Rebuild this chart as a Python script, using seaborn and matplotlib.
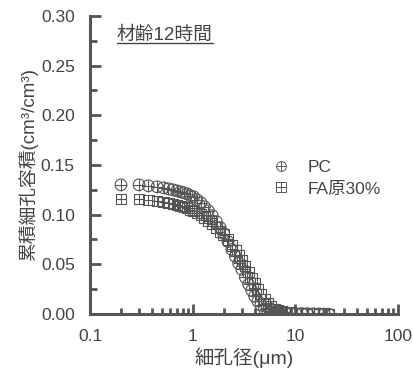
import numpy as np
import pandas as pd
import matplotlib
matplotlib.use('Agg')
import matplotlib.pyplot as plt
import seaborn as sns
from matplotlib.lines import Line2D
from matplotlib.legend_handler import HandlerTuple

# pore diameter (um) and cumulative pore volume (cm3/cm3)
pore_d = [0.2, 0.3, 0.37, 0.45, 0.52, 0.58, 0.64, 0.7, 0.76, 0.82, 0.88, 0.95,
          1.02, 1.1, 1.2, 1.3, 1.42, 1.55, 1.7, 1.85, 2.0, 2.2, 2.4, 2.6, 2.8,
          3.0, 3.25, 3.5, 3.75, 4.0, 4.3, 4.6, 5.0, 5.4, 5.8, 6.3, 6.8, 7.4,
          8.0, 9.0, 10, 11.5, 13, 15, 17, 19, 21]
pc_vol = [0.130, 0.130, 0.129, 0.128, 0.127, 0.126, 0.125, 0.124, 0.123, 0.122,
          0.121, 0.119, 0.118, 0.115, 0.112, 0.108, 0.104, 0.099, 0.093, 0.087,
          0.081, 0.073, 0.065, 0.058, 0.051, 0.045, 0.037, 0.030, 0.024, 0.018,
          0.013, 0.009, 0.005, 0.003, 0.002, 0.0015, 0.001, 0.001, 0.0008,
          0.0006, 0.0005, 0.0004, 0.0003, 0.0002, 0.0001, 0.0, 0.0]
fa_vol = [0.116, 0.116, 0.115, 0.114, 0.113, 0.112, 0.111, 0.110, 0.109, 0.108,
          0.107, 0.105, 0.104, 0.102, 0.100, 0.097, 0.094, 0.091, 0.087, 0.083,
          0.080, 0.075, 0.069, 0.064, 0.059, 0.054, 0.048, 0.042, 0.036, 0.031,
          0.025, 0.020, 0.015, 0.011, 0.008, 0.005, 0.004, 0.003, 0.002, 0.0015,
          0.001, 0.0008, 0.0006, 0.0004, 0.0003, 0.0002, 0.0001]
series_names = ['PC', 'FA原30%']

sns.set_style('white')
plt.rcParams['font.family'] = ['Liberation Sans', 'Noto Sans CJK JP']

grey = '#555555'
txt = '#444444'

df = pd.DataFrame({'d': pore_d * 2,
                   'v': pc_vol + fa_vol,
                   's': [series_names[0]] * len(pore_d) + [series_names[1]] * len(pore_d)})

fig = plt.figure(figsize=(4.13, 3.77), dpi=100)
ax = fig.add_axes([0.218, 0.167, 0.746, 0.791])

shapes = {series_names[0]: 'o', series_names[1]: 's'}
sizes = {series_names[0]: 70, series_names[1]: 55}
for name in series_names:
    sub = df[df['s'] == name]
    sns.scatterplot(data=sub, x='d', y='v', marker=shapes[name], s=sizes[name],
                    facecolors='none', edgecolor=grey, linewidth=0.8, ax=ax, legend=False)
    sns.scatterplot(data=sub, x='d', y='v', marker='+', s=sizes[name],
                    color=grey, linewidth=0.8, ax=ax, legend=False)

ax.set_xscale('log')
ax.set_xlim(0.1, 100)
ax.set_ylim(0, 0.30)
ax.set_yticks(np.arange(0, 0.31, 0.05))
ax.set_yticks(np.arange(0.025, 0.3, 0.05), minor=True)
ax.set_yticklabels(['%.2f' % v for v in np.arange(0, 0.31, 0.05)])
ax.set_xticks([0.1, 1, 10, 100])
ax.set_xticklabels(['0.1', '1', '10', '100'])

for side in ['top', 'right']:
    ax.spines[side].set_visible(False)
for side in ['left', 'bottom']:
    ax.spines[side].set_color(grey)
    ax.spines[side].set_linewidth(2.2)

ax.tick_params(which='both', bottom=True, left=True, top=False, right=False)
ax.tick_params(which='major', direction='in', length=8, width=2, color=grey,
               labelsize=12.5, labelcolor=txt, pad=11)
ax.tick_params(which='minor', direction='in', length=5, width=2, color=grey)
ax.tick_params(axis='x', which='major', length=7)
ax.tick_params(axis='x', which='minor', length=4)

ax.set_xlabel('細孔径(μm)', fontsize=14, color=txt, labelpad=2)
ax.set_ylabel('累積細孔容積(cm³/cm³)', fontsize=13.5, color=txt, labelpad=2)

# title inside the axes, underlined
t = ax.text(0.087, 0.935, '材齢12時間', transform=ax.transAxes, fontsize=13.5,
            color=txt, ha='left', va='center')
fig.canvas.draw()
bb = t.get_window_extent().transformed(ax.transAxes.inverted())
ax.plot([bb.x0, bb.x1], [bb.y0 + 0.004, bb.y0 + 0.004], transform=ax.transAxes,
        color=txt, lw=1, clip_on=False)

handles = []
for name in series_names:
    h1 = Line2D([], [], ls='none', marker=shapes[name], markersize=7,
                markerfacecolor='none', markeredgecolor=grey, markeredgewidth=0.7)
    h2 = Line2D([], [], ls='none', marker='+', markersize=7,
                markeredgecolor=grey, markeredgewidth=0.7)
    handles.append((h1, h2))
leg = ax.legend(handles, series_names, handler_map={tuple: HandlerTuple(ndivide=1)},
                loc='center left', bbox_to_anchor=(0.565, 0.455), frameon=False,
                fontsize=12.5, handletextpad=0.9, labelspacing=0.35, handlelength=1.2,
                borderaxespad=0)
for tx in leg.get_texts():
    tx.set_color(txt)

fig.savefig('out.png', dpi=100)
